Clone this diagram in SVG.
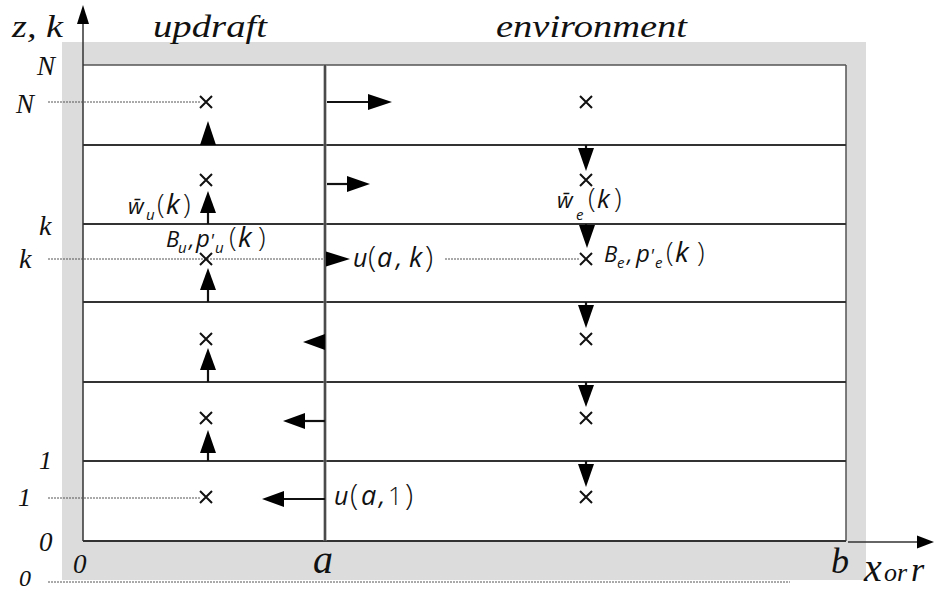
<svg xmlns="http://www.w3.org/2000/svg" width="934" height="592" viewBox="0 0 934 592">
<style>
.lbl{font-family:"Liberation Serif","DejaVu Serif",serif;font-style:italic;fill:#111}
.m{font-family:"Open Sans","DejaVu Sans",sans-serif;font-style:italic;fill:#111}
.p{font-family:"Open Sans","DejaVu Sans",sans-serif;font-style:normal;font-weight:300;fill:#111}
.row{stroke:#333;stroke-width:2;fill:none}
.dot{stroke:#555;stroke-width:1;stroke-dasharray:2 1;fill:none}
.shaft{stroke:#111;stroke-width:2.2;fill:none}
.head{fill:#000;stroke:none}
.x{stroke:#111;stroke-width:2;fill:none}
</style>
<defs>
<path id="cross" d="M-6,-6L6,6M6,-6L-6,6"/>
</defs>
<rect width="934" height="592" fill="#fff"/>
<g id="frame">
<rect x="62" y="42" width="804" height="538" fill="#dcdcdc"/>
<rect x="83" y="65" width="763" height="476" fill="#fff"/>
<line x1="83" y1="65" x2="846" y2="65" stroke="#555" stroke-width="1.5"/>
<line x1="846" y1="65" x2="846" y2="541" stroke="#555" stroke-width="1.5"/>
</g>
<g id="layers">
<line class="row" x1="83" y1="145" x2="846" y2="145"/>
<line class="row" x1="83" y1="224" x2="846" y2="224"/>
<line class="row" x1="83" y1="302" x2="846" y2="302"/>
<line class="row" x1="83" y1="382" x2="846" y2="382"/>
<line class="row" x1="83" y1="461" x2="846" y2="461"/>
<line class="row" x1="83" y1="541" x2="846" y2="541"/>
<line x1="325" y1="65" x2="325" y2="541" stroke="#888" stroke-width="3"/>
<line x1="325" y1="65" x2="325" y2="541" stroke="#222" stroke-width="1.2"/>
</g>
<g id="axes">
<line x1="83" y1="541" x2="83" y2="20" stroke="#333" stroke-width="1.5"/>
<polygon class="head" points="83,5 77,24 89,24"/>
<line x1="848" y1="542" x2="920" y2="542" stroke="#333" stroke-width="1.5"/>
<polygon class="head" points="934,542 917,535.5 917,548.5"/>
</g>
<g id="guides">
<line class="dot" x1="48" y1="102" x2="200" y2="102"/>
<line class="dot" x1="48" y1="259" x2="325" y2="259"/>
<line class="dot" x1="445" y1="259" x2="579" y2="259"/>
<line class="dot" x1="48" y1="498" x2="200" y2="498"/>
<line class="dot" x1="48" y1="582" x2="790" y2="582"/>
</g>
<g id="grid-points">
<use href="#cross" class="x" x="206" y="102"/>
<use href="#cross" class="x" x="206" y="180"/>
<use href="#cross" class="x" x="206" y="259"/>
<use href="#cross" class="x" x="206" y="339"/>
<use href="#cross" class="x" x="206" y="418"/>
<use href="#cross" class="x" x="206" y="497"/>
<use href="#cross" class="x" x="586" y="102"/>
<use href="#cross" class="x" x="586" y="180"/>
<use href="#cross" class="x" x="586" y="259"/>
<use href="#cross" class="x" x="586" y="339"/>
<use href="#cross" class="x" x="586" y="418"/>
<use href="#cross" class="x" x="586" y="497"/>
</g>
<g id="connectors">
<polygon class="head" points="208,121 200,145 216,145"/>
<line class="shaft" x1="208" y1="224" x2="208" y2="210"/>
<polygon class="head" points="208,191 200,213 216,213"/>
<line class="shaft" x1="208" y1="302" x2="208" y2="288"/>
<polygon class="head" points="208,268 200,290 216,290"/>
<line class="shaft" x1="208" y1="382" x2="208" y2="368"/>
<polygon class="head" points="208,348 200,370 216,370"/>
<line class="shaft" x1="208" y1="461" x2="208" y2="450"/>
<polygon class="head" points="208,430 200,453 216,453"/>
<line class="shaft" x1="586" y1="145" x2="586" y2="150"/>
<polygon class="head" points="586,171 578,148 594,148"/>
<line class="shaft" x1="586" y1="224" x2="586" y2="228"/>
<polygon class="head" points="587,248 579,225 595,225"/>
<line class="shaft" x1="586" y1="302" x2="586" y2="307"/>
<polygon class="head" points="586,328 578,305 594,305"/>
<line class="shaft" x1="586" y1="382" x2="586" y2="387"/>
<polygon class="head" points="586,407 578,385 594,385"/>
<line class="shaft" x1="586" y1="461" x2="586" y2="466"/>
<polygon class="head" points="586,487 578,464 594,464"/>
<line class="shaft" x1="327" y1="102" x2="370" y2="102"/>
<polygon class="head" points="392,102 368,94 368,110"/>
<line class="shaft" x1="327" y1="184" x2="349" y2="184"/>
<polygon class="head" points="370,184 347,176 347,192"/>
<polygon class="head" points="350,259 326,251.5 326,266.5"/>
<polygon class="head" points="303,342 325,334 325,350"/>
<line class="shaft" x1="325" y1="421" x2="303" y2="421"/>
<polygon class="head" points="283,421 305,413 305,429"/>
<line class="shaft" x1="325" y1="499" x2="282" y2="499"/>
<polygon class="head" points="262,499 284,491 284,507"/>
</g>
<g id="axis-labels">
<text class="lbl" x="12" y="37" font-size="32" textLength="51" lengthAdjust="spacingAndGlyphs">z, k</text>
<text class="lbl" x="153" y="37" font-size="32" textLength="114" lengthAdjust="spacingAndGlyphs">updraft</text>
<text class="lbl" x="496" y="37" font-size="32" textLength="191" lengthAdjust="spacingAndGlyphs">environment</text>
<text class="lbl" x="37" y="75" font-size="27">N</text>
<text class="lbl" x="16" y="113" font-size="27">N</text>
<text class="lbl" x="39" y="235" font-size="28">k</text>
<text class="lbl" x="19" y="268" font-size="28">k</text>
<text class="lbl" x="39" y="469" font-size="26">1</text>
<text class="lbl" x="18" y="506" font-size="26">1</text>
<text class="lbl" x="39" y="551" font-size="27">0</text>
<text class="lbl" x="73" y="573" font-size="27">0</text>
<text class="lbl" x="19" y="586" font-size="24">0</text>
<text class="lbl" x="313" y="573" font-size="40">a</text>
<text class="lbl" x="831" y="573" font-size="36">b</text>
<text class="lbl" y="581"><tspan x="864" font-size="40">x</tspan><tspan x="884" font-size="26">or</tspan><tspan x="911" font-size="34">r</tspan></text>
</g>
<g id="math-labels">
<text class="m" y="214"><tspan x="128" font-size="22">w̄</tspan><tspan x="146" y="220" font-size="15">u</tspan><tspan class="p" x="157" y="214" font-size="28">(</tspan><tspan x="166" font-size="28">k</tspan><tspan class="p" x="183" font-size="28">)</tspan></text>
<text class="m" y="247"><tspan x="166" font-size="22">B</tspan><tspan x="178" y="253" font-size="15">u</tspan><tspan x="189" y="247" font-size="22">,</tspan><tspan x="196" font-size="24">p</tspan><tspan x="210" font-size="18">'</tspan><tspan x="215" y="253" font-size="15">u</tspan><tspan class="p" x="229" y="247" font-size="28">(</tspan><tspan x="238" font-size="28">k</tspan><tspan class="p" x="258" font-size="28">)</tspan></text>
<text class="m" y="267"><tspan x="353" font-size="25">u</tspan><tspan class="p" x="368" font-size="30">(</tspan><tspan x="377" font-size="27">a</tspan><tspan x="396" font-size="25">,</tspan><tspan x="409" font-size="27">k</tspan><tspan class="p" x="425" font-size="30">)</tspan></text>
<text class="m" y="505"><tspan x="334" font-size="25">u</tspan><tspan class="p" x="350" font-size="30">(</tspan><tspan x="361" font-size="27">a</tspan><tspan x="379" font-size="25">,</tspan><tspan class="p" x="388" font-size="25">1</tspan><tspan class="p" x="405" font-size="30">)</tspan></text>
<text class="m" y="208"><tspan x="557" font-size="22">w̄</tspan><tspan x="576" y="220" font-size="15">e</tspan><tspan class="p" x="588" y="208" font-size="28">(</tspan><tspan x="597" font-size="26">k</tspan><tspan class="p" x="614" font-size="28">)</tspan></text>
<text class="m" y="262"><tspan x="604" font-size="22">B</tspan><tspan x="617" y="268" font-size="15">e</tspan><tspan x="627" y="262" font-size="22">,</tspan><tspan x="636" font-size="24">p</tspan><tspan x="650" font-size="18">'</tspan><tspan x="655" y="268" font-size="15">e</tspan><tspan class="p" x="666" y="262" font-size="28">(</tspan><tspan x="675" font-size="28">k</tspan><tspan class="p" x="697" font-size="28">)</tspan></text>
</g>
</svg>
